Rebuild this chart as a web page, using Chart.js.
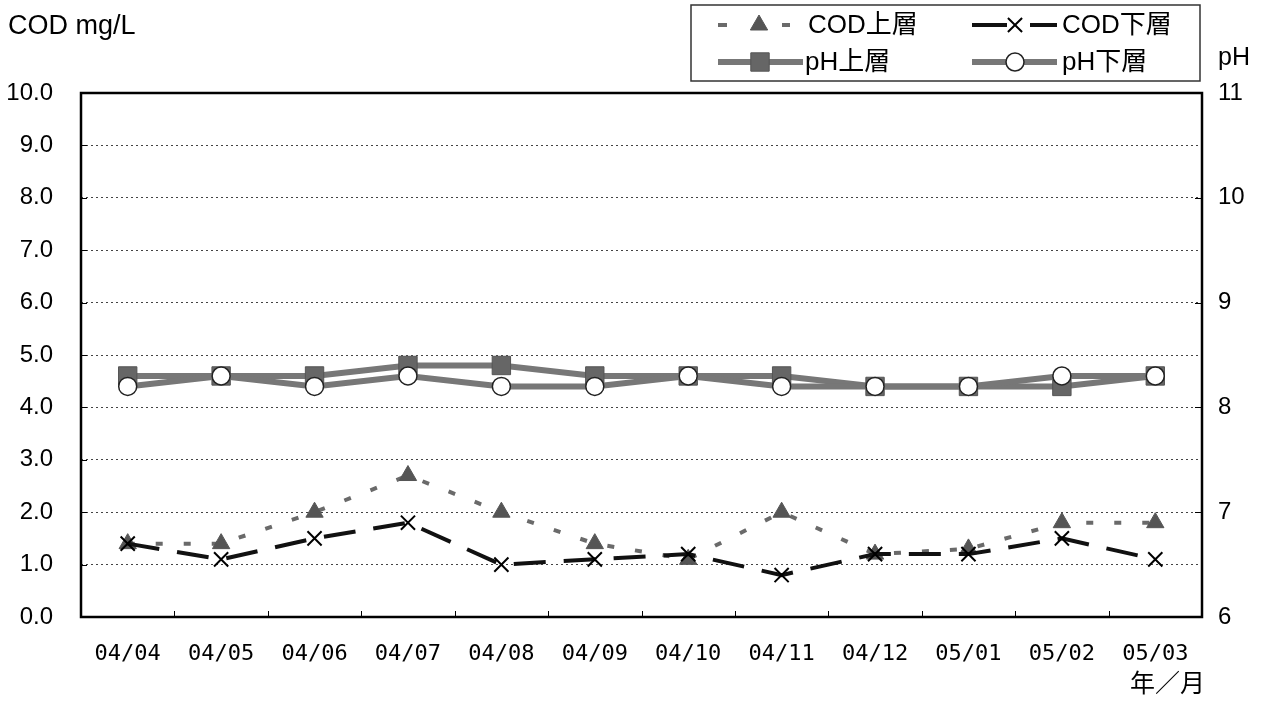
<!DOCTYPE html>
<html lang="ja">
<head>
    <meta charset="UTF-8">
    <title>COD / pH</title>
    <style>
        html, body { margin: 0; padding: 0; background: #fff; }
        #wrap { width: 1264px; height: 702px; }
    </style>
</head>
<body>
    <div id="wrap">
        <canvas id="codChart" width="1264" height="702"></canvas>
    </div>

    <script src="https://cdn.jsdelivr.net/npm/chart.js"></script>
    <script>
        // data
        const months = ['04/04', '04/05', '04/06', '04/07', '04/08', '04/09', '04/10', '04/11', '04/12', '05/01', '05/02', '05/03'];
        const codUpper = [1.4, 1.4, 2.0, 2.7, 2.0, 1.4, 1.1, 2.0, 1.2, 1.3, 1.8, 1.8];
        const codLower = [1.4, 1.1, 1.5, 1.8, 1.0, 1.1, 1.2, 0.8, 1.2, 1.2, 1.5, 1.1];
        const phUpper = [8.3, 8.3, 8.3, 8.4, 8.4, 8.3, 8.3, 8.3, 8.2, 8.2, 8.2, 8.3];
        const phLower = [8.2, 8.3, 8.2, 8.3, 8.2, 8.2, 8.3, 8.2, 8.2, 8.2, 8.3, 8.3];
        const seriesNames = ['COD上層', 'COD下層', 'pH上層', 'pH下層'];

        const FONT = '"Liberation Sans", Arial, "Noto Sans CJK JP", sans-serif';
        const MONO = '"DejaVu Sans Mono", "Liberation Mono", monospace';
        const PH_LINE = '#777';

        // frame, inner ticks, titles and the boxed legend
        const decorations = {
            id: 'decorations',
            afterDraw(chart) {
                const ctx = chart.ctx;
                const a = chart.chartArea;
                const y = chart.scales.y;
                const y2 = chart.scales.y2;
                ctx.save();

                // plot frame
                ctx.strokeStyle = '#000';
                ctx.lineWidth = 2.5;
                ctx.strokeRect(a.left, a.top, a.right - a.left, a.bottom - a.top);

                // category ticks pointing up from the bottom
                ctx.lineWidth = 1;
                const step = (a.right - a.left) / months.length;
                for (let i = 1; i < months.length; i++) {
                    const x = Math.round(a.left + i * step) + 0.5;
                    ctx.beginPath();
                    ctx.moveTo(x, a.bottom);
                    ctx.lineTo(x, a.bottom - 6);
                    ctx.stroke();
                }
                // pH ticks on the right edge
                for (let v = 7; v <= 10; v++) {
                    const py = Math.round(y2.getPixelForValue(v)) + 0.5;
                    ctx.beginPath();
                    ctx.moveTo(a.right, py);
                    ctx.lineTo(a.right - 7, py);
                    ctx.stroke();
                }
                // COD ticks on the left edge
                for (let v = 1; v <= 9; v++) {
                    const py = Math.round(y.getPixelForValue(v)) + 0.5;
                    ctx.beginPath();
                    ctx.moveTo(a.left, py);
                    ctx.lineTo(a.left + 6, py);
                    ctx.stroke();
                }

                // axis titles
                ctx.fillStyle = '#000';
                ctx.textBaseline = 'middle';
                ctx.textAlign = 'left';
                ctx.font = '27px ' + FONT;
                ctx.fillText('COD mg/L', 8, 27);
                ctx.font = '25px ' + FONT;
                ctx.fillText('pH', 1218, 58);
                ctx.fillText('年／月', 1130, 685);

                // legend box
                ctx.lineWidth = 1.5;
                ctx.strokeStyle = '#333';
                ctx.strokeRect(691, 5, 509, 76);

                const byName = name => chart.data.datasets.find(d => d.label === name);
                const r1 = 25, r2 = 62;
                const seg = (x1, x2, yy, color, width) => {
                    ctx.save();
                    ctx.strokeStyle = color;
                    ctx.lineWidth = width;
                    ctx.beginPath();
                    ctx.moveTo(x1, yy);
                    ctx.lineTo(x2, yy);
                    ctx.stroke();
                    ctx.restore();
                };
                const mark = (d, x, yy) => {
                    ctx.save();
                    ctx.fillStyle = d.pointBackgroundColor;
                    ctx.strokeStyle = d.pointBorderColor;
                    ctx.lineWidth = d.pointBorderWidth;
                    Chart.helpers.drawPoint(ctx, { pointStyle: d.pointStyle, radius: d.pointRadius, rotation: 0, borderWidth: d.pointBorderWidth }, x, yy);
                    ctx.restore();
                };

                const cu = byName(seriesNames[0]);
                const cl = byName(seriesNames[1]);
                const pu = byName(seriesNames[2]);
                const pl = byName(seriesNames[3]);

                seg(718, 727, r1, cu.borderColor, 4);
                seg(782, 790, r1, cu.borderColor, 4);
                mark(cu, 759, r1);
                seg(972, 1007, r1, '#111', 4);
                seg(1030, 1057, r1, '#111', 4);
                mark(cl, 1015, r1);
                seg(718, 803, r2, PH_LINE, 6);
                mark(pu, 760, r2);
                seg(972, 1057, r2, PH_LINE, 6);
                mark(pl, 1015, r2);

                ctx.fillStyle = '#000';
                ctx.font = '26px ' + FONT;
                ctx.fillText(seriesNames[0], 808, r1 + 1);
                ctx.fillText(seriesNames[1], 1062, r1 + 1);
                ctx.fillText(seriesNames[2], 805, r2 + 1);
                ctx.fillText(seriesNames[3], 1062, r2 + 1);

                ctx.restore();
            }
        };

        const ctx = document.getElementById('codChart').getContext('2d');
        const chart = new Chart(ctx, {
            type: 'line',
            data: {
                labels: months,
                datasets: [
                    {
                        label: seriesNames[2],
                        data: phUpper,
                        yAxisID: 'y2',
                        borderColor: PH_LINE,
                        borderWidth: 6,
                        pointStyle: 'rect',
                        pointRadius: 13,
                        pointBackgroundColor: '#666',
                        pointBorderColor: '#555',
                        pointBorderWidth: 1,
                        order: 4
                    },
                    {
                        label: seriesNames[3],
                        data: phLower,
                        yAxisID: 'y2',
                        borderColor: PH_LINE,
                        borderWidth: 6,
                        pointStyle: 'circle',
                        pointRadius: 9,
                        pointBackgroundColor: '#fff',
                        pointBorderColor: '#222',
                        pointBorderWidth: 1.5,
                        order: 3
                    },
                    {
                        label: seriesNames[0],
                        data: codUpper,
                        yAxisID: 'y',
                        borderColor: '#6a6a6a',
                        borderWidth: 4,
                        borderDash: [7, 21],
                        pointStyle: 'triangle',
                        pointRadius: 10,
                        pointBackgroundColor: '#555',
                        pointBorderColor: '#555',
                        pointBorderWidth: 1,
                        order: 2
                    },
                    {
                        label: seriesNames[1],
                        data: codLower,
                        yAxisID: 'y',
                        borderColor: '#111',
                        borderWidth: 4,
                        borderDash: [32, 18],
                        pointStyle: 'crossRot',
                        pointRadius: 10,
                        pointBackgroundColor: '#000',
                        pointBorderColor: '#000',
                        pointBorderWidth: 2,
                        order: 1
                    }
                ]
            },
            options: {
                responsive: false,
                animation: false,
                layout: { padding: { top: 93, left: 0, right: 0, bottom: 0 } },
                plugins: {
                    legend: { display: false },
                    tooltip: { enabled: false }
                },
                elements: { line: { tension: 0 } },
                scales: {
                    x: {
                        offset: true,
                        grid: { display: false, offset: true },
                        border: { display: false },
                        ticks: {
                            color: '#000',
                            font: { size: 22, family: MONO },
                            padding: 16,
                            maxRotation: 0,
                            autoSkip: false
                        },
                        afterFit: s => { s.height = 85; }
                    },
                    y: {
                        position: 'left',
                        min: 0,
                        max: 10,
                        grid: { color: '#444', lineWidth: 1, drawTicks: false },
                        border: { display: false, dash: [2, 3] },
                        ticks: {
                            stepSize: 1,
                            color: '#000',
                            font: { size: 24, family: FONT },
                            padding: 28,
                            callback: v => Number(v).toFixed(1)
                        },
                        afterFit: s => { s.width = 81; }
                    },
                    y2: {
                        position: 'right',
                        min: 6,
                        max: 11,
                        grid: { drawOnChartArea: false, drawTicks: false },
                        border: { display: false },
                        ticks: {
                            stepSize: 1,
                            color: '#000',
                            font: { size: 24, family: FONT },
                            padding: 16
                        },
                        afterFit: s => { s.width = 62; }
                    }
                }
            },
            plugins: [decorations]
        });
    </script>
</body>
</html>
